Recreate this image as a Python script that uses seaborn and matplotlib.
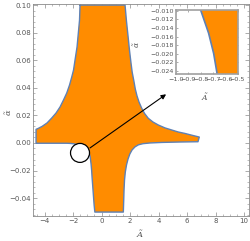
import numpy as np
import seaborn as sns
import matplotlib.pyplot as plt
from matplotlib.patches import Ellipse
from matplotlib.ticker import MultipleLocator

# outline of the orange region (clockwise from top-left)
top_left_x = [-1.509, -1.544, -1.628, -1.719, -1.860, -1.965, -2.091, -2.246, -2.442,
              -2.667, -2.912, -3.193, -3.495, -3.825, -4.175, -4.456, -4.596]
top_left_y = [0.1000, 0.0891, 0.0797, 0.0696, 0.0601, 0.0529, 0.0478, 0.0420, 0.0362,
              0.0312, 0.0261, 0.0217, 0.0181, 0.0145, 0.0120, 0.0105, 0.0099]
bottom_left_x = [-4.596, -2.44, -2.211, -1.930, -1.649, -1.368, -1.158, -0.982, -0.877,
                 -0.800, -0.735, -0.694, -0.666, -0.620, -0.570, -0.520, -0.470]
bottom_left_y = [-0.0002, -0.0002, -0.0003, -0.0006, -0.0012, -0.0022, -0.0036, -0.0054, -0.0072,
                 -0.0098, -0.0152, -0.0199, -0.0246, -0.0310, -0.0380, -0.0450, -0.0501]
bottom_right_x = [1.530, 1.558, 1.579, 1.614, 1.670, 1.754, 1.860, 1.986, 2.140, 2.351,
                  2.596, 2.912, 3.404, 4.246, 5.509, 6.770]
bottom_right_y = [-0.0501, -0.0413, -0.0341, -0.0268, -0.0210, -0.0159, -0.0116, -0.0080, -0.0051, -0.0028,
                  -0.0013, -0.0005, 0.0000, 0.0004, 0.0007, 0.0009]
top_right_x = [6.86, 6.35, 5.86, 5.37, 4.93, 4.46, 3.99, 3.61, 3.28, 3.02, 2.81, 2.63,
               2.49, 2.37, 2.27, 2.15, 2.06, 1.96, 1.86, 1.75, 1.65]
top_right_y = [0.0043, 0.0056, 0.0069, 0.0080, 0.0094, 0.0109, 0.0130, 0.0152, 0.0179, 0.0214, 0.0254, 0.0297,
               0.0341, 0.0391, 0.0449, 0.0514, 0.0587, 0.0674, 0.0775, 0.0884, 0.1000]

region_x = top_left_x + bottom_left_x + bottom_right_x + top_right_x + top_left_x[:1]
region_y = top_left_y + bottom_left_y + bottom_right_y + top_right_y + top_left_y[:1]

marker_center = (-1.51, -0.0072)
arrow_start = (-0.81, -0.0036)
arrow_end = (4.53, 0.0353)

main_xticks = [-4, -2, 0, 2, 4, 6, 8, 10]
main_yticks = [-0.04, -0.02, 0.00, 0.02, 0.04, 0.06, 0.08, 0.10]
inset_xticks = [-1.0, -0.9, -0.8, -0.7, -0.6, -0.5]
inset_yticks = [-0.024, -0.022, -0.020, -0.018, -0.016, -0.014, -0.012, -0.010]

fill_color = '#ff8c00'
edge_color = '#5e81b5'
frame_color = '#8a8a8a'
text_color = '#555555'

sns.set_style('ticks')
plt.rcParams['font.family'] = ['DejaVu Sans']
plt.rcParams['mathtext.fontset'] = 'dejavuserif'

fig = plt.figure(figsize=(2.5, 2.41), dpi=100)
ax = fig.add_axes([0.132, 0.104, 0.864, 0.879])


def draw_region(a, lw):
    a.fill(region_x, region_y, color=fill_color, lw=0, zorder=1)
    sns.lineplot(x=region_x, y=region_y, sort=False, estimator=None,
                 color=edge_color, lw=lw, ax=a, zorder=2)


def style_frame(a, fs):
    for s in a.spines.values():
        s.set_color(frame_color)
        s.set_linewidth(0.6)
    a.tick_params(which='both', direction='in', top=True, right=True,
                  colors=frame_color, labelcolor=text_color, labelsize=fs, pad=1.5)
    a.tick_params(which='major', length=3, width=0.5)
    a.tick_params(which='minor', length=1.5, width=0.4)


draw_region(ax, 1.0)
ax.set_xlim(-4.81, 10.35)
ax.set_ylim(-0.0529, 0.1007)
ax.set_xticks(main_xticks)
ax.set_yticks(main_yticks)
ax.set_yticklabels([f'{v:.2f}'.replace('-', '\u2212') for v in main_yticks])
ax.set_xticklabels([str(v).replace('-', '\u2212') for v in main_xticks])
ax.xaxis.set_minor_locator(MultipleLocator(0.5))
ax.yaxis.set_minor_locator(MultipleLocator(0.004))
style_frame(ax, 5)
ax.set_xlabel(r'$\tilde{A}$', fontsize=6, color=text_color)
ax.set_ylabel(r'$\tilde{\alpha}$', fontsize=6, color=text_color)
ax.xaxis.set_label_coords(0.495, -0.06)
ax.yaxis.set_label_coords(-0.09, 0.49)

ax.add_patch(Ellipse(marker_center, width=2 * 9.5 / 14.25, height=2 * 9.5 * 0.0007246,
                     facecolor='white', edgecolor='black', lw=0.9, zorder=3))
ax.annotate('', xy=arrow_end, xytext=arrow_start,
            arrowprops=dict(arrowstyle='-|>', color='black', lw=0.8,
                            mutation_scale=7, shrinkA=0, shrinkB=0), zorder=4)

ins = fig.add_axes([0.704, 0.691, 0.246, 0.268])
ins.set_facecolor('white')
draw_region(ins, 1.2)
ins.set_xlim(-1.0, -0.5)
ins.set_ylim(-0.0248, -0.0098)
ins.set_xticks(inset_xticks)
ins.set_yticks(inset_yticks)
ins.set_xticklabels([f'{v:.1f}'.replace('-', '\u2212') for v in inset_xticks])
ins.set_yticklabels([f'{v:.3f}'.replace('-', '\u2212') for v in inset_yticks])
style_frame(ins, 4.6)
for s in ins.spines.values():
    s.set_linewidth(1.2)
    s.set_color('#a0a0a0')
ins.tick_params(which='major', length=1.5)
ins.set_xlabel(r'$\tilde{A}$', fontsize=5.5, color=text_color)
ins.set_ylabel(r'$\tilde{\alpha}$', fontsize=5.5, color=text_color)
ins.xaxis.set_label_coords(0.47, -0.27)
ins.yaxis.set_label_coords(-0.56, 0.46)

fig.savefig('out.png', dpi=100)
